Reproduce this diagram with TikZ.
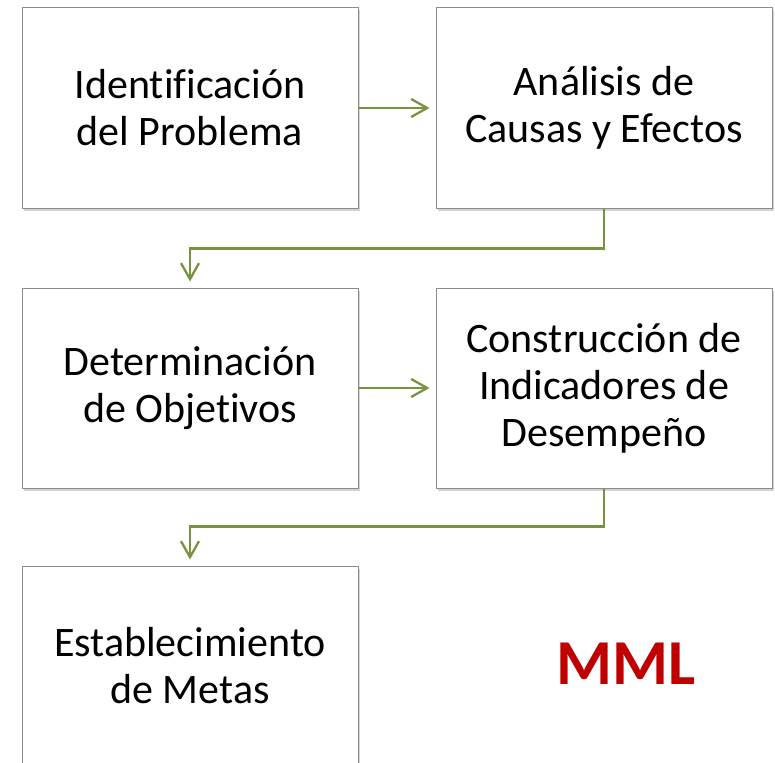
\documentclass[tikz,border=0pt]{standalone}
\usepackage{fontspec}
\setmainfont{Carlito}[Ligatures=NoCommon]
\usepackage{xcolor}
\usetikzlibrary{arrows.meta,positioning,shadows}
\definecolor{flow-green}{HTML}{77933C}
\definecolor{mml-red}{HTML}{C00000}

\begin{document}
\begin{tikzpicture}[
    x=1pt, y=-1pt,
    box/.style={rectangle, draw=black!45, line width=1pt, fill=white,
                minimum width=336pt, minimum height=200pt, align=center,
                font=\fontsize{42}{47}\selectfont,
                drop shadow={shadow xshift=1.5pt, shadow yshift=-2.5pt, opacity=0.35}},
    arrow/.style={-{Straight Barb[length=16pt, width=18pt]}, draw=flow-green,
                  line width=2.3pt, shorten >=6pt},
    node distance=77pt and 79pt
]
  \useasboundingbox (0,0) rectangle (775,762);
  \clip (0,0) rectangle (775,762);

  % Row 1
  \node[box] (ident) at (190,108) {Identificación\\del Problema};
  \node[box, right=77pt of ident] (causas) {Análisis de\\Causas y Efectos};

  % Row 2
  \node[box, below=79pt of ident] (objet) {Determinación\\de Objetivos};
  \node[box, right=77pt of objet] (indic) {Construcción de\\Indicadores de\\Desempeño};

  % Row 3
  \node[box, below=77pt of objet] (metas) {Establecimiento\\de Metas};

  % Label
  \node[text=mml-red, font=\fontsize{64}{70}\selectfont\bfseries] (mml) at (626,664) {MML};

  % Arrows
  \draw[arrow] (ident) -- (causas);
  \draw[arrow] (causas.south) -- ++(0,40) -| (objet.north);
  \draw[arrow] (objet) -- (indic);
  \draw[arrow] (indic.south) -- ++(0,38) -| (metas.north);

\end{tikzpicture}
\end{document}
